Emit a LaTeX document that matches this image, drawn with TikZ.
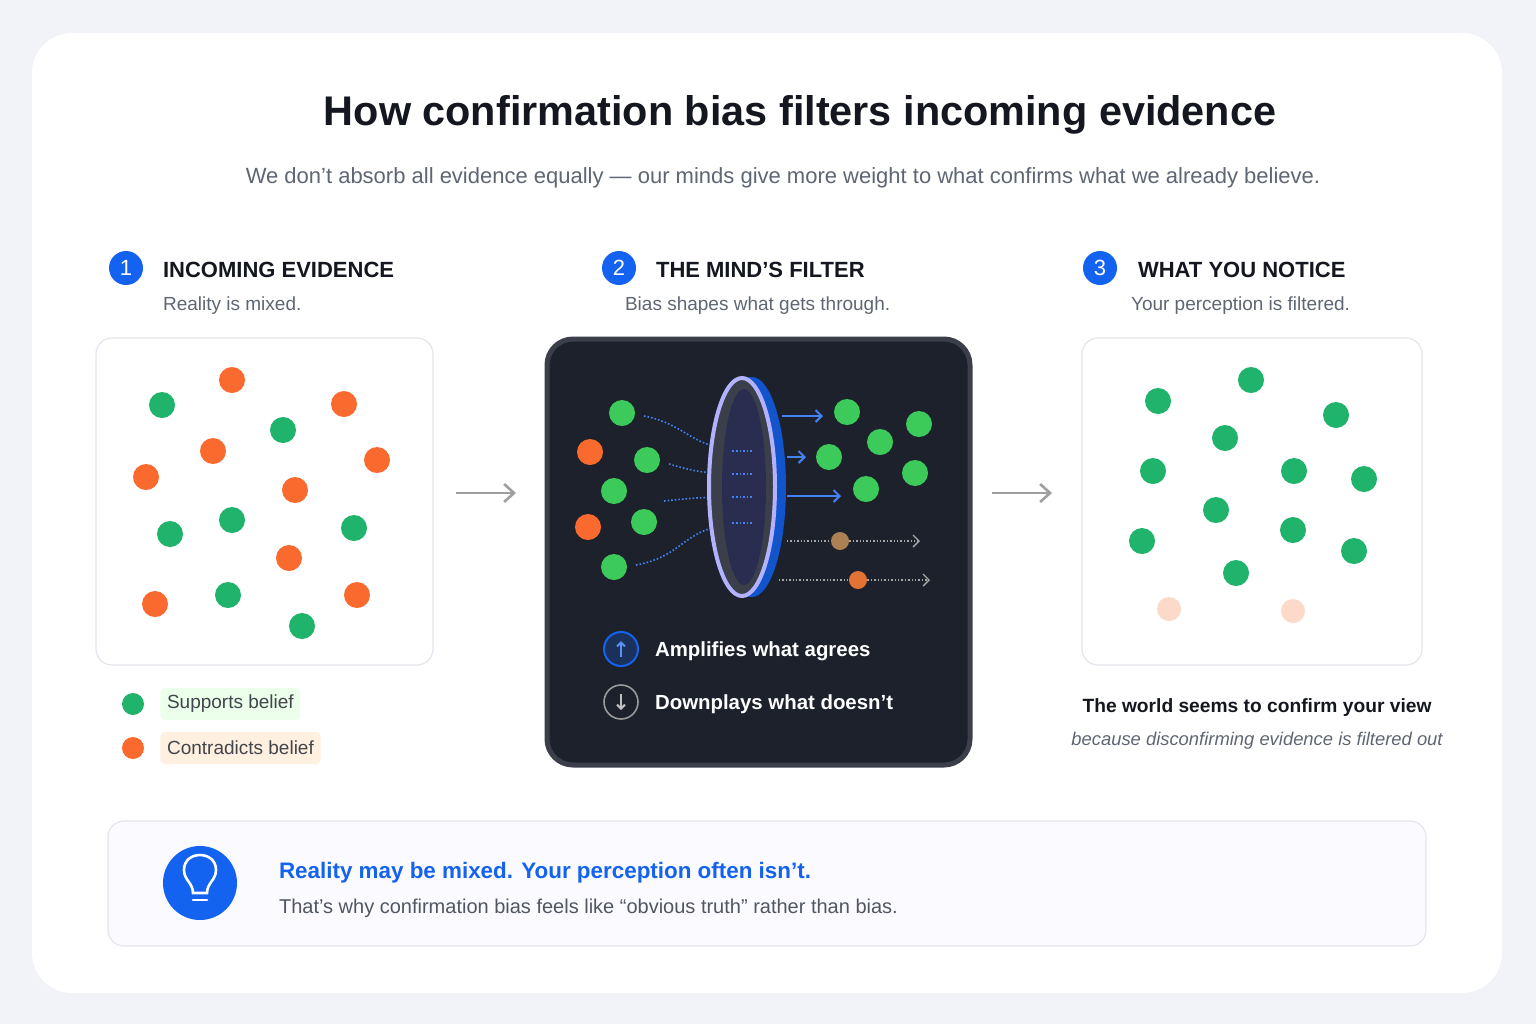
\documentclass[tikz,border=0pt]{standalone}
\usepackage{fontspec}
\setmainfont{Liberation Sans}
\usetikzlibrary{arrows.meta}
\definecolor{bgc}{HTML}{F1F3F8}
\definecolor{ink}{HTML}{14171F}
\definecolor{muted}{HTML}{5F6673}
\definecolor{bluec}{HTML}{1463F0}
\definecolor{greenc}{HTML}{1FB36B}
\definecolor{brightg}{HTML}{3CCB5A}
\definecolor{orangec}{HTML}{FA6A2E}
\definecolor{palec}{HTML}{FCD9C8}
\definecolor{panelc}{HTML}{1C212B}
\definecolor{rimc}{HTML}{3A3F4A}
\definecolor{edgec}{HTML}{E3E6EC}
\tikzset{
  dotg/.style={circle,fill=greenc,minimum size=13pt,inner sep=0pt},
  doto/.style={circle,fill=orangec,minimum size=13pt,inner sep=0pt},
  dotp/.style={circle,fill=palec,minimum size=12pt,inner sep=0pt},
  dotgl/.style={circle,fill=brightg,minimum size=13pt,inner sep=0pt},
  numbadge/.style={circle,fill=bluec,minimum size=17pt,inner sep=0pt,text=white,font=\fontsize{11}{12}\selectfont},
  headtxt/.style={anchor=west,font=\fontsize{11}{13}\selectfont\bfseries,text=ink},
  subtxt/.style={anchor=west,font=\fontsize{9.5}{11}\selectfont,text=muted},
  cardbox/.style={draw=edgec,fill=white,rounded corners=8pt,line width=0.6pt},
  passarrow/.style={-{Straight Barb[length=3pt]},bluec!80!white,line width=1pt},
  dimline/.style={gray!70,densely dotted,line width=0.7pt},
  dimarrow/.style={dimline,-{Straight Barb[length=3pt]}},
  flowline/.style={bluec!80!white,densely dotted,line width=0.8pt},
  steparrow/.style={-{Straight Barb[length=5pt,width=9pt]},gray!75,line width=1.3pt}
}
\begin{document}
\begin{tikzpicture}[x=0.5pt,y=-0.5pt]
  \useasboundingbox (0,0) rectangle (1536,1024);
  \fill[bgc] (0,0) rectangle (1536,1024);
  \fill[white,rounded corners=20pt] (32,33) rectangle (1502,993);

  % title
  \node (title) at (800,115) {\fontsize{20.7}{24}\selectfont\bfseries\color{ink}How confirmation bias filters incoming evidence};
  \node (subtitle) at (783,178) {\fontsize{11}{13}\selectfont\color{muted}We don’t absorb all evidence equally — our minds give more weight to what confirms what we already believe.};

  % headers
  \node[numbadge] (n1) at (126,268) {1};
  \node[headtxt] (h1) at (156,270) {INCOMING EVIDENCE};
  \node[subtxt] (s1) at (156,306) {Reality is mixed.};
  \node[numbadge] (n2) at (619,268) {2};
  \node[headtxt] (h2) at (649,270) {THE MIND’S FILTER};
  \node[subtxt] (s2) at (618,306) {Bias shapes what gets through.};
  \node[numbadge] (n3) at (1100,268) {3};
  \node[headtxt] (h3) at (1131,270) {WHAT YOU NOTICE};
  \node[subtxt] (s3) at (1124,306) {Your perception is filtered.};

  % panel 1
  \draw[cardbox] (96,338) rectangle (433,665);
  \foreach \p [count=\i] in {(162,405),(283,430),(232,520),(170,534),(354,528),(228,595),(302,626)}
    \node[dotg] (ga\i) at \p {};
  \foreach \p [count=\i] in {(232,380),(344,404),(213,451),(377,460),(146,477),(295,490),(289,558),(155,604),(357,595)}
    \node[doto] (oa\i) at \p {};

  % legend
  \node[dotg,minimum size=11pt] (lg) at (133,704) {};
  \node[anchor=west,fill=green!8,rounded corners=2pt,minimum height=16pt,font=\fontsize{9.5}{11}\selectfont,text=ink!80] (lgt) at (160,704) {Supports belief};
  \node[doto,minimum size=11pt] (lo) at (133,748) {};
  \node[anchor=west,fill=orange!12,rounded corners=2pt,minimum height=16pt,font=\fontsize{9.5}{11}\selectfont,text=ink!80] (lot) at (160,748) {Contradicts belief};

  % step arrows
  \coordinate (a1s) at (456,493); \coordinate (a1e) at (516,493);
  \coordinate (a2s) at (992,493); \coordinate (a2e) at (1052,493);
  \draw[steparrow] (a1s) -- (a1e);
  \draw[steparrow] (a2s) -- (a2e);

  % panel 2
  \draw[fill=panelc,draw=rimc,line width=2.5pt,rounded corners=13pt] (547,339) rectangle (970,765);
  \foreach \p [count=\i] in {(622,413),(647,460),(614,491),(644,522),(614,567)}
    \node[dotgl] (gb\i) at \p {};
  \node[doto] (ob1) at (590,452) {};
  \node[doto] (ob2) at (588,527) {};
  \coordinate (f1) at (752,451); \coordinate (f2) at (752,474);
  \coordinate (f3) at (752,497); \coordinate (f4) at (752,523);
  \draw[flowline] (644,416) .. controls (690,425) and (690,451) .. (f1);
  \draw[flowline] (669,464) .. controls (700,473) and (710,474) .. (f2);
  \draw[flowline] (664,501) .. controls (700,497) and (710,497) .. (f3);
  \draw[flowline] (636,565) .. controls (690,555) and (680,523) .. (f4);
  % filter lens
  \fill[bluec!85!black] (752,487) ellipse[x radius=34,y radius=110];
  \fill[bluec!85!black] (742,377) rectangle (752,597);
  \draw[draw=blue!30!white,line width=2pt,fill=rimc] (742,487) ellipse[x radius=33,y radius=109];
  \fill[rimc!60!panelc!90!blue] (744,487) ellipse[x radius=22,y radius=98];
  \foreach \yy in {f1,f2,f3,f4} \draw[flowline] (\yy) -- ++(-20,0);
  % passing
  \coordinate (p1) at (782,416); \coordinate (p1e) at (823,416);
  \coordinate (p2) at (787,457); \coordinate (p2e) at (806,457);
  \coordinate (p3) at (787,496); \coordinate (p3e) at (841,496);
  \draw[passarrow] (p1) -- (p1e);
  \draw[passarrow] (p2) -- (p2e);
  \draw[passarrow] (p3) -- (p3e);
  \foreach \p [count=\i] in {(847,412),(829,457),(880,442),(919,424),(915,473),(866,489)}
    \node[dotgl] (gc\i) at \p {};
  % dimmed
  \node[circle,fill=brown!70!gray,minimum size=9pt,inner sep=0pt] (d1) at (840,541) {};
  \node[circle,fill=orangec!60!brown,minimum size=9pt,inner sep=0pt] (d2) at (858,580) {};
  \coordinate (q1) at (787,541); \coordinate (q1e) at (920,541);
  \coordinate (q2) at (779,580); \coordinate (q2e) at (930,580);
  \draw[dimline] (q1) -- (d1); \draw[dimarrow] (d1) -- (q1e);
  \draw[dimline] (q2) -- (d2); \draw[dimarrow] (d2) -- (q2e);
  % filter legend
  \node[circle,draw=bluec,fill=bluec!25!panelc,line width=1pt,minimum size=17pt,inner sep=0pt] (up) at (621,649) {};
  \draw[-{Straight Barb[length=2pt]},bluec!70!white,line width=1pt] ([yshift=-4pt]up.center) -- ([yshift=4pt]up.center);
  \node[anchor=west,text=white,font=\fontsize{10.2}{12}\selectfont\bfseries] (upt) at (648,651) {Amplifies what agrees};
  \node[circle,draw=gray!80,line width=0.8pt,minimum size=17pt,inner sep=0pt] (dn) at (621,702) {};
  \draw[-{Straight Barb[length=2pt]},gray!50!white,line width=1pt] ([yshift=4pt]dn.center) -- ([yshift=-4pt]dn.center);
  \node[anchor=west,text=white,font=\fontsize{10.2}{12}\selectfont\bfseries] (dnt) at (648,704) {Downplays what doesn’t};

  % panel 3
  \draw[cardbox] (1082,338) rectangle (1422,665);
  \foreach \p [count=\i] in {(1158,401),(1251,380),(1336,415),(1225,438),(1153,471),(1294,471),(1364,479),(1216,510),(1293,530),(1142,541),(1354,551),(1236,573)}
    \node[dotg] (gd\i) at \p {};
  \node[dotp] (pd1) at (1169,609) {};
  \node[dotp] (pd2) at (1293,611) {};
  \node[font=\fontsize{9.6}{12}\selectfont\bfseries,text=ink] (cap1) at (1257,708) {The world seems to confirm your view};
  \node[font=\fontsize{9.2}{11}\selectfont\itshape,text=muted] (cap2) at (1257,741) {because disconfirming evidence is filtered out};

  % takeaway
  \draw[fill=blue!2!white,draw=edgec,rounded corners=8pt,line width=0.6pt] (108,821) rectangle (1426,946);
  \node[circle,fill=bluec,minimum size=37pt,inner sep=0pt] (bulb) at (200,883) {};
  \draw[white,line width=1.3pt] (193,893) .. controls (193,883) and (184,880) .. (184,870) .. controls (184,850) and (216,850) .. (216,870) .. controls (216,880) and (207,883) .. (207,893) -- cycle;
  \draw[white,line width=1.3pt,line cap=round] (193,900) -- (207,900);
  \node[anchor=west,font=\fontsize{11.2}{13}\selectfont\bfseries,text=bluec] (tk1) at (272,873) {Reality may be mixed. Your perception often isn’t.};
  \node[anchor=west,font=\fontsize{10}{12}\selectfont,text=muted!80!ink] (tk2) at (272,908) {That’s why confirmation bias feels like “obvious truth” rather than bias.};
\end{tikzpicture}
\end{document}
